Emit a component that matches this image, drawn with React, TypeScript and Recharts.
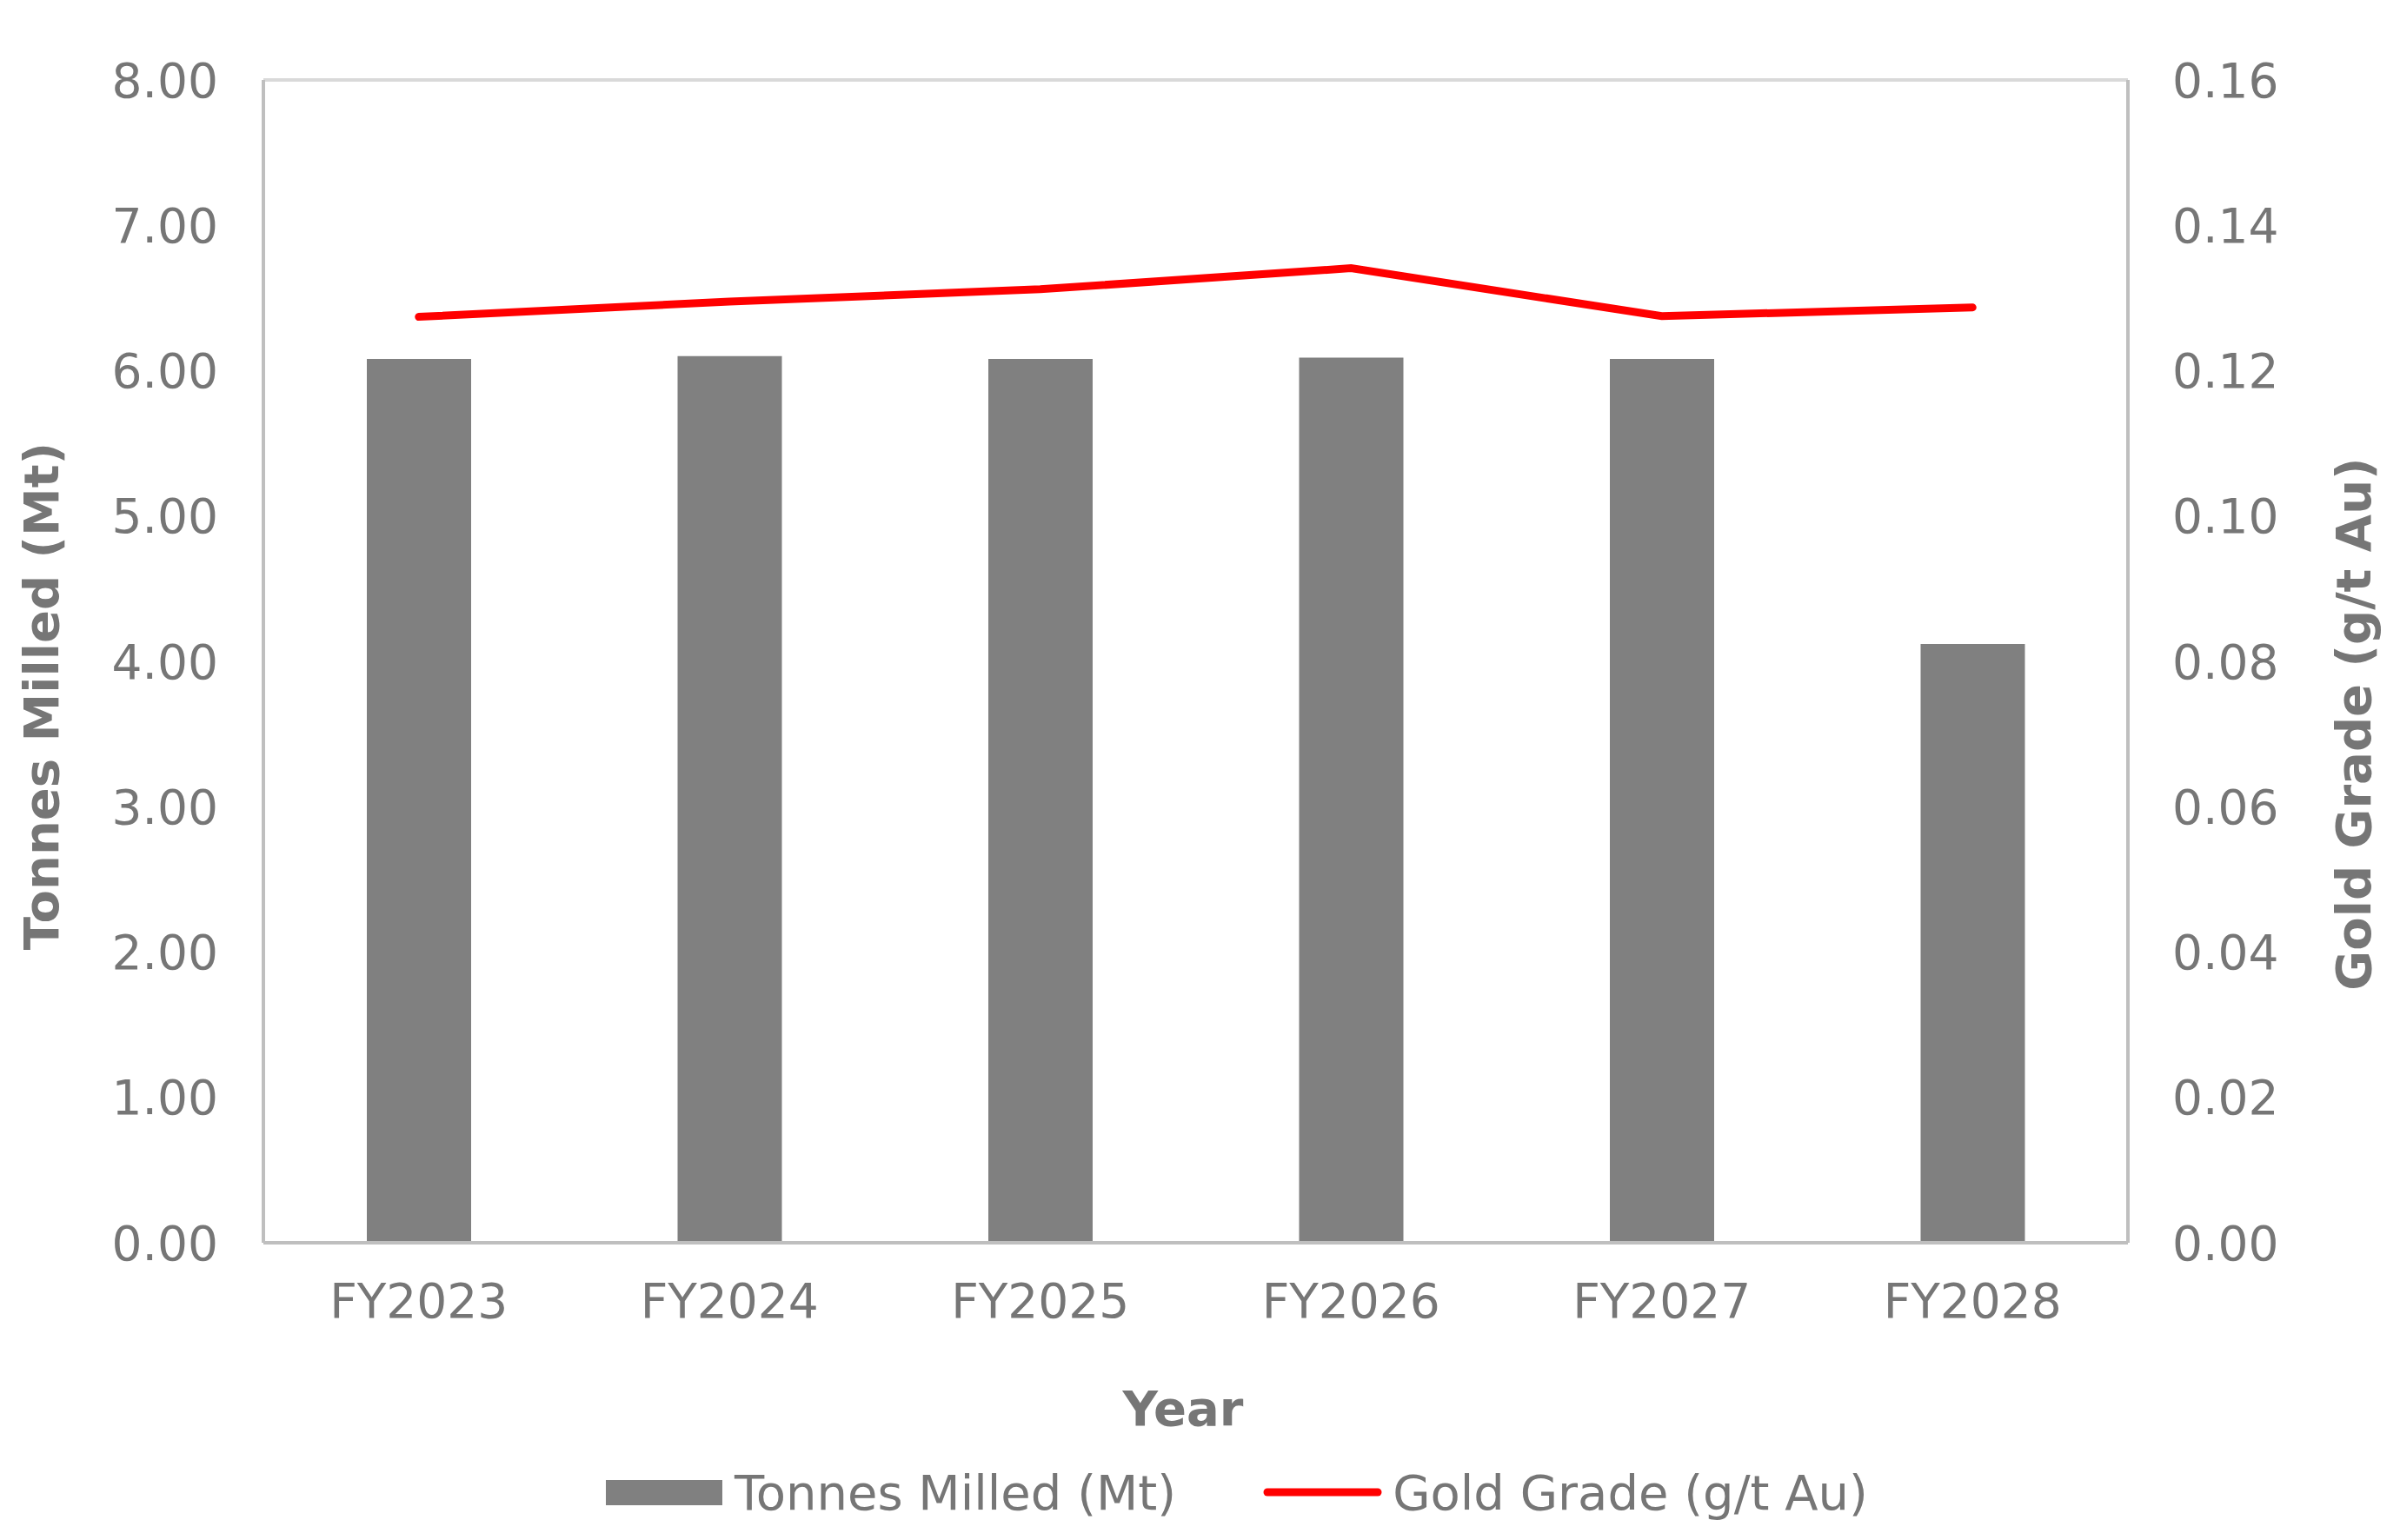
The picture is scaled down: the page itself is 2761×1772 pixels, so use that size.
import {
  Bar,
  CartesianGrid,
  ComposedChart,
  Line,
  XAxis,
  YAxis,
} from "recharts";

const years = ["FY2023", "FY2024", "FY2025", "FY2026", "FY2027", "FY2028"];
const tonnesMilled = [6.08, 6.1, 6.08, 6.09, 6.08, 4.12];
const goldGrade = [0.1274, 0.1295, 0.1312, 0.1341, 0.1275, 0.1287];
const leftTicks = [0, 1, 2, 3, 4, 5, 6, 7, 8];
const rightTicks = [0, 0.02, 0.04, 0.06, 0.08, 0.1, 0.12, 0.14, 0.16];

const data = years.map((year, i) => ({
  year,
  tonnes: tonnesMilled[i],
  grade: goldGrade[i],
}));

const FONT = "'DejaVu Sans', Verdana, sans-serif";
const TEXT = "#767676";
const tick = { fill: TEXT, fontSize: 55, fontFamily: FONT };

function RotatedTitle({ x, y, text }: { x: number; y: number; text: string }) {
  return (
    <text
      x={x}
      y={y}
      transform={`rotate(-90, ${x}, ${y})`}
      textAnchor="middle"
      dominantBaseline="central"
      fill={TEXT}
      fontSize={56}
      fontWeight="bold"
      fontFamily={FONT}
    >
      {text}
    </text>
  );
}

export default function App() {
  return (
    <div
      style={{
        position: "absolute",
        left: 0,
        top: 0,
        width: 2761,
        height: 1772,
        background: "#fff",
      }}
    >
      <ComposedChart
        width={2761}
        height={1772}
        data={data}
        margin={{ top: 92, right: 0, bottom: 0, left: 0 }}
      >
        <CartesianGrid vertical={false} stroke="#d9d9d9" strokeWidth={4} />
        <XAxis
          dataKey="year"
          height={342}
          stroke="#bfbfbf"
          strokeWidth={4}
          tickLine={false}
          tickSize={0}
          tickMargin={47}
          tick={tick}
          label={{
            content: () => (
              <text
                x={1361}
                y={1620}
                textAnchor="middle"
                dominantBaseline="central"
                fill={TEXT}
                fontSize={56}
                fontWeight="bold"
                fontFamily={FONT}
              >
                Year
              </text>
            ),
          }}
        />
        <YAxis
          yAxisId="left"
          width={303}
          domain={[0, 8]}
          ticks={leftTicks}
          tickFormatter={(v: number) => v.toFixed(2)}
          stroke="#bfbfbf"
          strokeWidth={4}
          tickLine={false}
          tickSize={0}
          tickMargin={52}
          tick={tick}
          label={{
            content: () => (
              <RotatedTitle x={47} y={801} text="Tonnes Milled (Mt)" />
            ),
          }}
        />
        <YAxis
          yAxisId="right"
          orientation="right"
          width={313}
          domain={[0, 0.16]}
          ticks={rightTicks}
          tickFormatter={(v: number) => v.toFixed(2)}
          stroke="#bfbfbf"
          strokeWidth={4}
          tickLine={false}
          tickSize={0}
          tickMargin={51}
          tick={tick}
          label={{
            content: () => (
              <RotatedTitle x={2707} y={833} text="Gold Grade (g/t Au)" />
            ),
          }}
        />
        <Bar
          yAxisId="left"
          dataKey="tonnes"
          name="Tonnes Milled (Mt)"
          fill="#808080"
          barSize={120}
          isAnimationActive={false}
        />
        <Line
          yAxisId="right"
          dataKey="grade"
          name="Gold Grade (g/t Au)"
          stroke="#ff0000"
          strokeWidth={9}
          strokeLinecap="round"
          dot={false}
          activeDot={false}
          isAnimationActive={false}
        />
      </ComposedChart>
      <div
        style={{
          position: "absolute",
          left: 697,
          top: 1682,
          height: 70,
          display: "flex",
          alignItems: "center",
          fontFamily: FONT,
          fontSize: 56,
          color: TEXT,
          whiteSpace: "nowrap",
        }}
      >
        <span
          style={{
            display: "inline-block",
            width: 134,
            height: 29,
            background: "#808080",
            marginRight: 14,
          }}
        />
        <span>Tonnes Milled (Mt)</span>
        <svg width={137} height={20} style={{ marginLeft: 100, marginRight: 12 }}>
          <line
            x1={5}
            y1={10}
            x2={132}
            y2={10}
            stroke="#ff0000"
            strokeWidth={9}
            strokeLinecap="round"
          />
        </svg>
        <span>Gold Grade (g/t Au)</span>
      </div>
    </div>
  );
}
